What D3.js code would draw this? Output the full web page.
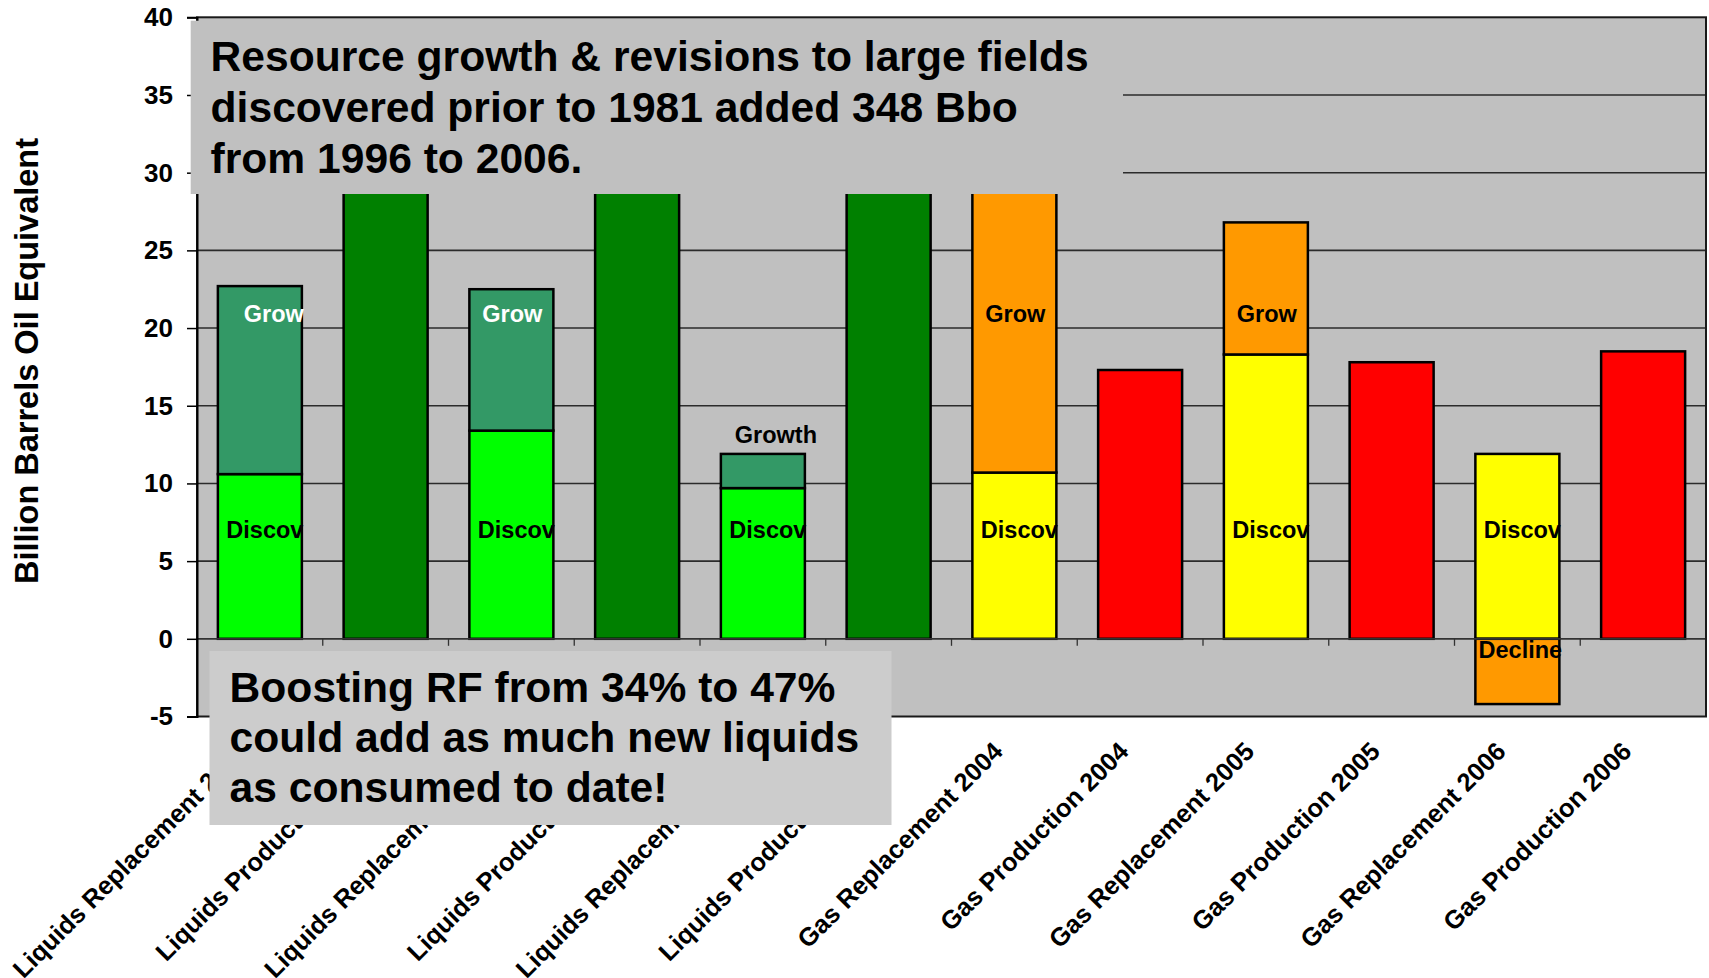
<!DOCTYPE html>
<html>
<head>
<meta charset="utf-8">
<script src="https://cdn.jsdelivr.net/npm/d3@7"></script>
<style>
  html, body { margin: 0; padding: 0; background: #ffffff; }
  svg { display: block; font-family: "Liberation Sans", Arial, Helvetica, sans-serif; font-weight: bold; }
</style>
</head>
<body>
<svg id="chart" width="1709" height="978"></svg>
<script>
// ---- data (Billion Barrels Oil Equivalent) ----
const categories = [
  "Liquids Replacement 2004", "Liquids Production 2004",
  "Liquids Replacement 2005", "Liquids Production 2005",
  "Liquids Replacement 2006", "Liquids Production 2006",
  "Gas Replacement 2004", "Gas Production 2004",
  "Gas Replacement 2005", "Gas Production 2005",
  "Gas Replacement 2006", "Gas Production 2006"
];
const discovery  = [10.6, null, 13.4, null, 9.7, null, 10.7, null, 18.3, null, 11.9, null];
const growth     = [12.1, null, 9.1, null, 2.2, null, 19.0, null, 8.5, null, null, null];
const decline    = [null, null, null, null, null, null, null, null, null, null, -4.2, null];
const production = [null, 30.0, null, 30.7, null, 31.0, null, 17.3, null, 17.8, null, 18.5];
const yTicks = [-5, 0, 5, 10, 15, 20, 25, 30, 35, 40];
const yTitle = "Billion Barrels Oil Equivalent";
const headline = [
  "Resource growth & revisions to large fields",
  "discovered prior to 1981 added 348 Bbo",
  "from 1996 to 2006."
];
const footnote = [
  "Boosting RF from 34% to 47%",
  "could add as much new liquids",
  "as consumed to date!"
];

// ---- palette ----
const palette = {
  liquids: { disc: "#00ff00", grow: "#339966", prod: "#008000", growText: "#ffffff" },
  gas:     { disc: "#ffff00", grow: "#ff9900", prod: "#ff0000", growText: "#000000", decl: "#ff9900" }
};

// ---- layout ----
const svg = d3.select("#chart");
const plot = { left: 197, right: 1706, top: 17.3, bottom: 716.5 };

const x = d3.scaleBand()
  .domain(categories)
  .range([plot.left, plot.right])
  .paddingInner(0.332)
  .paddingOuter(0.166);

const y = d3.scaleLinear()
  .domain([d3.min(yTicks), d3.max(yTicks)])
  .range([plot.bottom, plot.top]);

const bw = x.bandwidth();
const kindOf = c => c.startsWith("Liquids") ? "liquids" : "gas";

// plot area
svg.append("rect")
  .attr("x", plot.left).attr("y", plot.top)
  .attr("width", plot.right - plot.left).attr("height", plot.bottom - plot.top)
  .attr("fill", "#c0c0c0");

// horizontal gridlines
svg.append("g")
  .selectAll("line")
  .data(yTicks.filter(v => v > 0 && v < 40))
  .join("line")
  .attr("x1", plot.left).attr("x2", plot.right)
  .attr("y1", d => y(d)).attr("y2", d => y(d))
  .attr("stroke", "#2b2b2b").attr("stroke-width", 1.6);

// stacked segments
const segments = [];
categories.forEach((c, i) => {
  const k = kindOf(c);
  if (discovery[i] != null) segments.push({ c, y0: 0, y1: discovery[i], fill: palette[k].disc });
  if (growth[i] != null) segments.push({ c, y0: discovery[i], y1: discovery[i] + growth[i], fill: palette[k].grow });
  if (decline[i] != null) segments.push({ c, y0: decline[i], y1: 0, fill: palette[k].decl });
  if (production[i] != null) segments.push({ c, y0: 0, y1: production[i], fill: palette[k].prod });
});

svg.append("g")
  .selectAll("rect")
  .data(segments)
  .join("rect")
  .attr("x", d => x(d.c))
  .attr("y", d => y(Math.max(d.y0, d.y1)))
  .attr("width", bw)
  .attr("height", d => Math.abs(y(d.y0) - y(d.y1)))
  .attr("fill", d => d.fill)
  .attr("stroke", "#000").attr("stroke-width", 2.5);

// segment labels
const labels = svg.append("g").attr("font-size", 23.5);
categories.forEach((c, i) => {
  const k = kindOf(c);
  const cx = x(c) + bw / 2;
  if (discovery[i] != null) {
    labels.append("text").attr("x", cx + 5).attr("y", y(6.5))
      .attr("text-anchor", "middle").attr("fill", "#000").text("Discov");
  }
  if (growth[i] != null) {
    const top = discovery[i] + growth[i];
    if (growth[i] > 4) {
      labels.append("text").attr("x", cx + (i === 0 ? 14 : 1)).attr("y", y(20.4))
        .attr("text-anchor", "middle").attr("fill", palette[k].growText).text("Grow");
    } else {
      labels.append("text").attr("x", cx + 13).attr("y", y(top) - 11)
        .attr("text-anchor", "middle").attr("fill", "#000").text("Growth");
    }
  }
  if (decline[i] != null) {
    labels.append("text").attr("x", cx + 3).attr("y", y(0) + 19.5)
      .attr("text-anchor", "middle").attr("fill", "#000").text("Decline");
  }
});

// category axis line at zero with ticks between categories
const zeroY = y(0);
svg.append("line")
  .attr("x1", plot.left).attr("x2", plot.right)
  .attr("y1", zeroY).attr("y2", zeroY)
  .attr("stroke", "#333").attr("stroke-width", 1.8);
svg.append("g")
  .selectAll("line")
  .data(categories.slice(1))
  .join("line")
  .attr("x1", d => x(d) - x.step() * x.paddingInner() / 2)
  .attr("x2", d => x(d) - x.step() * x.paddingInner() / 2)
  .attr("y1", zeroY).attr("y2", zeroY + 7)
  .attr("stroke", "#333").attr("stroke-width", 1.3);

// plot frame
svg.append("rect")
  .attr("x", plot.left).attr("y", plot.top)
  .attr("width", plot.right - plot.left).attr("height", plot.bottom - plot.top)
  .attr("fill", "none").attr("stroke", "#1a1a1a").attr("stroke-width", 2);

// value axis
const yAxis = svg.append("g")
  .attr("transform", `translate(${plot.left},0)`)
  .call(d3.axisLeft(y).tickValues(yTicks).tickSize(10).tickPadding(14).tickFormat(d => String(d)));
yAxis.select(".domain").attr("stroke", "#000").attr("stroke-width", 2);
yAxis.selectAll(".tick line").attr("stroke", "#000").attr("stroke-width", 1.5);
yAxis.selectAll(".tick text")
  .attr("font-size", 26).attr("font-weight", "bold")
  .attr("font-family", "'Liberation Sans', Arial, sans-serif").attr("fill", "#000");

// value axis title
svg.append("text")
  .attr("transform", "translate(38,361) rotate(-90)")
  .attr("text-anchor", "middle")
  .attr("font-size", 32.5)
  .attr("fill", "#000")
  .text(yTitle);

// category labels
svg.append("g")
  .selectAll("text")
  .data(categories)
  .join("text")
  .attr("transform", d => `translate(${x(d) + bw / 2 - 10},753) rotate(-45)`)
  .attr("text-anchor", "end")
  .attr("font-size", 25.5)
  .attr("fill", "#000")
  .text(d => d);

// headline callout
const head = svg.append("g");
head.append("rect")
  .attr("x", 190.7).attr("y", 20.7).attr("width", 1123 - 190.7).attr("height", 194 - 20.7)
  .attr("fill", "#c0c0c0");
head.selectAll("text")
  .data(headline)
  .join("text")
  .attr("x", 210.6)
  .attr("y", (d, i) => 71 + i * 51)
  .attr("font-size", 42.6)
  .attr("fill", "#000")
  .text(d => d);

// recovery-factor callout
const foot = svg.append("g");
foot.append("rect")
  .attr("x", 209.5).attr("y", 651).attr("width", 891.5 - 209.5).attr("height", 825 - 651)
  .attr("fill", "#cccccc");
foot.selectAll("text")
  .data(footnote)
  .join("text")
  .attr("x", 229.6)
  .attr("y", (d, i) => 702 + i * 50)
  .attr("font-size", 42.6)
  .attr("fill", "#000")
  .text(d => d);
</script>
</body>
</html>
